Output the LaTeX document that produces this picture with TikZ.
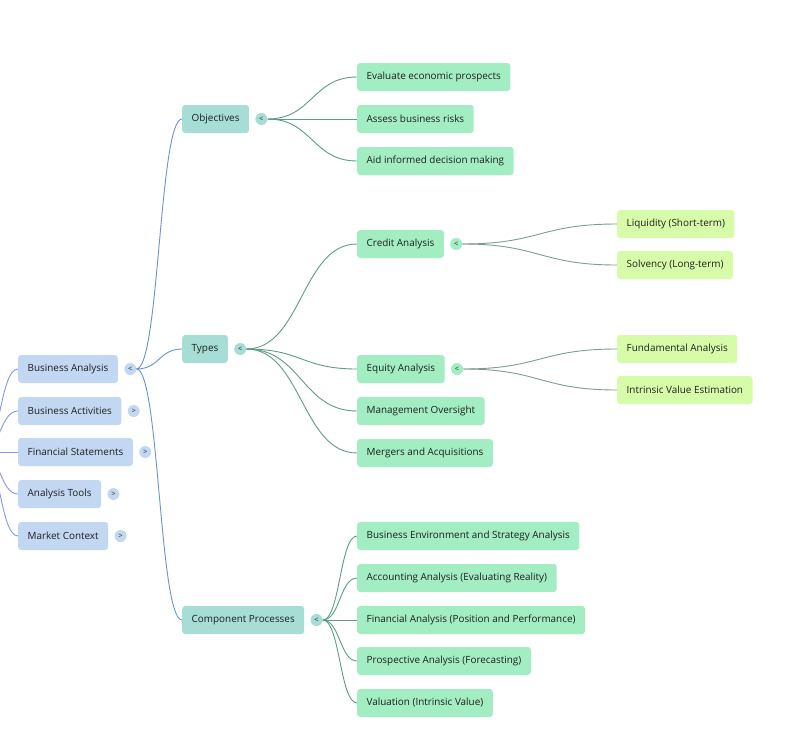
\documentclass[tikz,border=0pt]{standalone}
\usepackage{fontspec}
\setmainfont{Open Sans}
\usetikzlibrary{calc,positioning}
\definecolor{rootfill}{HTML}{C2D7F2}
\definecolor{topicfill}{HTML}{A6DDD4}
\definecolor{subfill}{HTML}{A3EDC2}
\definecolor{leaffill}{HTML}{D6FCA9}
\definecolor{hubline}{HTML}{8797EE}
\definecolor{rootline}{HTML}{6A93D0}
\definecolor{topicline}{HTML}{5E9C86}
\definecolor{subline}{HTML}{7F9C90}
\tikzset{
  box/.style={rectangle,rounded corners=3pt,minimum height=28pt,inner xsep=9.5pt,inner ysep=0pt,anchor=west,text=black!88,font=\fontsize{9.9}{11}\selectfont},
  root/.style={box,fill=rootfill},
  topic/.style={box,fill=topicfill},
  sub/.style={box,fill=subfill},
  leaf/.style={box,fill=leaffill},
  knob/.style={circle,inner sep=0pt,minimum size=12pt,text=black!85,font=\fontsize{7.5}{7.5}\selectfont},
  link/.style={line width=0.9pt,to path={let \p1=(\tikztostart),\p2=(\tikztotarget) in .. controls ({(\x1+\x2)/2},\y1) and ({(\x1+\x2)/2},\y2) .. (\p2)}}
}
\begin{document}
\begin{tikzpicture}[x=1pt,y=-1pt]
  \useasboundingbox[fill=white] (0,0) rectangle (787,753);
  \clip (0,0) rectangle (787,753);
  \coordinate (hub) at (-18,452);
  % left column
  \node[root] (ba) at (18,369) {Business Analysis};
  \node[root] (act) at (18,411) {Business Activities};
  \node[root] (fs) at (18,452) {Financial Statements};
  \node[root] (tools) at (18,494) {Analysis Tools};
  \node[root] (mkt) at (18,536) {Market Context};
  \node[knob,fill=rootfill,right=6pt of ba] (baK) {<};
  \node[knob,fill=rootfill,right=6pt of act] (actK) {>};
  \node[knob,fill=rootfill,right=6pt of fs] (fsK) {>};
  \node[knob,fill=rootfill,right=6pt of tools] (toolsK) {>};
  \node[knob,fill=rootfill,right=6pt of mkt] (mktK) {>};
  \foreach \k in {ba,act,fs,tools,mkt}
    \draw[link,hubline] (hub) to (\k.west);
  % topics
  \node[topic] (obj) at (182,119) {Objectives};
  \node[topic] (types) at (182,349) {Types};
  \node[topic] (proc) at (182,620) {Component Processes};
  \node[knob,fill=topicfill,right=6pt of obj] (objK) {<};
  \node[knob,fill=topicfill,right=6pt of types] (typesK) {<};
  \node[knob,fill=topicfill,right=6pt of proc] (procK) {<};
  \foreach \k in {obj,types,proc}
    \draw[link,rootline] (baK.east) to (\k.west);
  % objectives
  \node[sub] (eval) at (357,77) {Evaluate economic prospects};
  \node[sub] (risk) at (357,119) {Assess business risks};
  \node[sub] (aid) at (357,161) {Aid informed decision making};
  \foreach \k in {eval,risk,aid}
    \draw[link,topicline] (objK.east) to (\k.west);
  % types
  \node[sub] (credit) at (357,244) {Credit Analysis};
  \node[sub] (equity) at (357,369) {Equity Analysis};
  \node[sub] (mgmt) at (357,411) {Management Oversight};
  \node[sub] (merge) at (357,453) {Mergers and Acquisitions};
  \node[knob,fill=subfill,right=6pt of credit] (creditK) {<};
  \node[knob,fill=subfill,right=6pt of equity] (equityK) {<};
  \foreach \k in {credit,equity,mgmt,merge}
    \draw[link,topicline] (typesK.east) to (\k.west);
  \node[leaf] (liq) at (617,224) {Liquidity (Short-term)};
  \node[leaf] (solv) at (617,265) {Solvency (Long-term)};
  \node[leaf] (fund) at (617,349) {Fundamental Analysis};
  \node[leaf] (intr) at (617,390) {Intrinsic Value Estimation};
  \draw[link,subline] (creditK.east) to (liq.west);
  \draw[link,subline] (creditK.east) to (solv.west);
  \draw[link,subline] (equityK.east) to (fund.west);
  \draw[link,subline] (equityK.east) to (intr.west);
  % processes
  \node[sub] (env) at (357,536) {Business Environment and Strategy Analysis};
  \node[sub] (acc) at (357,578) {Accounting Analysis (Evaluating Reality)};
  \node[sub] (fin) at (357,620) {Financial Analysis (Position and Performance)};
  \node[sub] (prosp) at (357,661) {Prospective Analysis (Forecasting)};
  \node[sub] (val) at (357,703) {Valuation (Intrinsic Value)};
  \foreach \k in {env,acc,fin,prosp,val}
    \draw[link,topicline] (procK.east) to (\k.west);
\end{tikzpicture}
\end{document}
